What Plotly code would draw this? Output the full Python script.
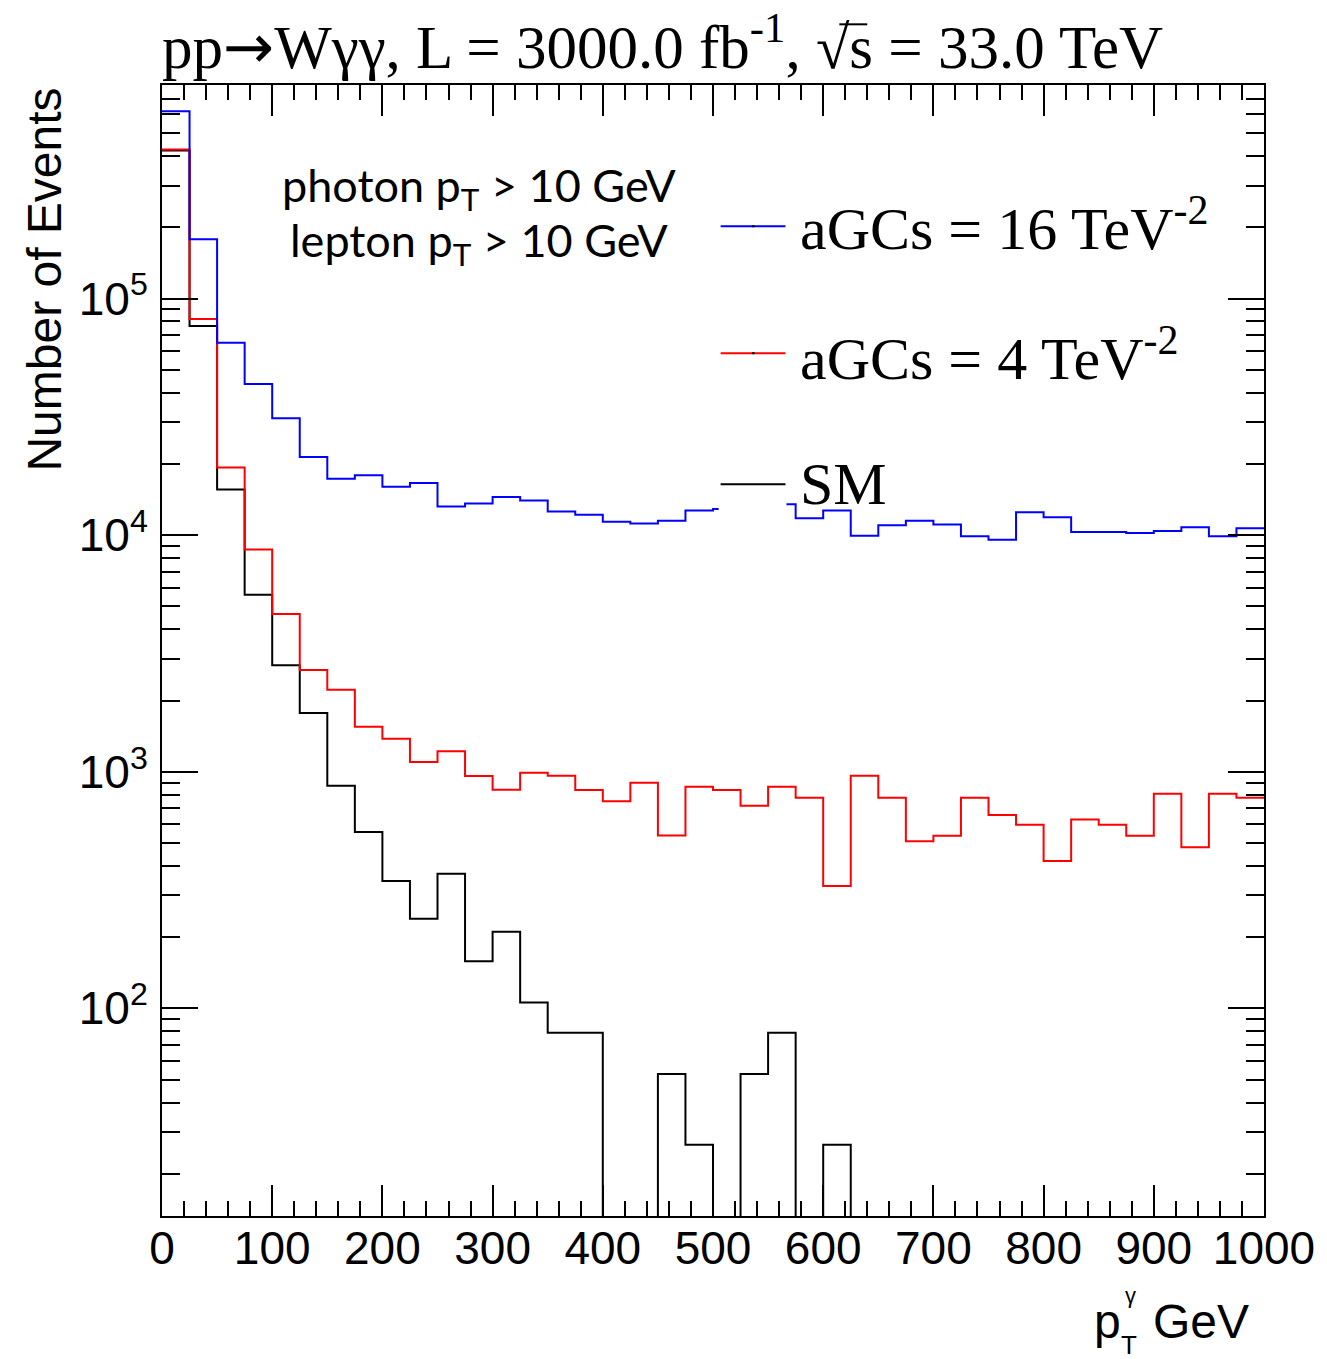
import plotly.graph_objects as go

# ---------------- data ----------------
bin_edges = list(range(0, 1025, 25))  # 40 bins of 25 GeV, photon pT [GeV]

agc16 = [6.18e5, 1.78e5, 6.5e4, 4.35e4, 3.12e4, 2.14e4, 1.73e4, 1.79e4, 1.60e4, 1.66e4,
         1.32e4, 1.36e4, 1.45e4, 1.40e4, 1.26e4, 1.22e4, 1.14e4, 1.12e4, 1.15e4, 1.27e4,
         1.29e4, 1.30e4, 1.35e4, 1.18e4, 1.27e4, 9.94e3, 1.10e4, 1.15e4, 1.11e4, 9.9e3,
         9.55e3, 1.25e4, 1.19e4, 1.03e4, 1.03e4, 1.02e4, 1.04e4, 1.08e4, 9.9e3, 1.07e4]

agc4 = [4.26e5, 8.2e4, 1.93e4, 8.7e3, 4.64e3, 2.69e3, 2.22e3, 1.55e3, 1.38e3, 1.10e3,
        1.22e3, 959, 839, 991, 962, 837, 750, 899, 538, 865,
        837, 718, 865, 776, 329, 962, 776, 509, 537, 776,
        656, 597, 420, 629, 597, 537, 807, 480, 807, 776]

sm = [4.22e5, 7.66e4, 1.56e4, 5.6e3, 2.82e3, 1.77e3, 873, 556, 345, 239,
      371, 158, 211, 106, 78.8, 78.8, 0, 0, 52.8, 26.5,
      0, 52.8, 78.8, 0, 26.5, 0, 0, 0, 0, 0,
      0, 0, 0, 0, 0, 0, 0, 0, 0, 0]

series_names = ["aGCs = 16 TeV<sup>-2</sup>", "aGCs = 4 TeV<sup>-2</sup>", "SM"]
x_tick_vals = list(range(0, 1001, 100))
y_tick_vals = [1e2, 1e3, 1e4, 1e5]
y_tick_text = ["10<sup>2</sup>", "10<sup>3</sup>", "10<sup>4</sup>", "10<sup>5</sup>"]

# ---------------- layout helpers ----------------
W, H = 1327, 1359
PL, PR, PT, PB = 162.0, 1266.7, 84.7, 1216.0


def fx(p):
    return (p - PL) / (PR - PL)


def fy(p):
    return (PB - p) / (PB - PT)


def step_y(vals, floor=1.0):
    v = [val if val > 0 else floor for val in vals]
    return v + [v[-1]]


fig = go.Figure()
for vals, color in [(sm, "#000000"), (agc4, "#ff0000"), (agc16, "#0000ff")]:
    fig.add_trace(go.Scatter(
        x=bin_edges, y=step_y(vals), mode="lines",
        line=dict(color=color, width=2, shape="hv"),
        showlegend=False, hoverinfo="skip"))

axis_common = dict(
    showline=True, linewidth=2, linecolor="black", mirror="ticks",
    ticks="inside", tickwidth=2, tickcolor="black",
    showgrid=False, zeroline=False,
    tickfont=dict(family="Liberation Sans, Arial, sans-serif", size=46, color="black"),
)

fig.update_layout(
    width=W, height=H,
    margin=dict(l=PL, r=W - PR, t=PT, b=H - PB, pad=0),
    paper_bgcolor="white", plot_bgcolor="white",
    xaxis=dict(range=[0, 1000], tickvals=x_tick_vals,
               ticktext=[str(v) for v in x_tick_vals], ticklen=31,
               ticklabelstandoff=-9,
               minor=dict(tickvals=list(range(0, 1001, 20)), ticks="inside", ticklen=15,
                          tickwidth=2, tickcolor="black", showgrid=False),
               **axis_common),
    yaxis=dict(type="log", range=[1.1225, 5.9024], tickvals=y_tick_vals,
               ticktext=y_tick_text, ticklen=36, ticklabelstandoff=3,
               minor=dict(tickvals=[k * 10 ** d for d in range(1, 6) for k in range(2, 10)],
                          ticks="inside", ticklen=18, tickwidth=2, tickcolor="black",
                          showgrid=False),
               **axis_common),
)

serif = "Liberation Serif, Times New Roman, serif"
sans = "Liberation Sans, Arial, sans-serif"
ann = []
# title
ann.append(dict(x=fx(160), y=fy(43), xref="paper", yref="paper", xanchor="left", yanchor="middle",
                text="pp<span style='font-family:DejaVu Sans'>\u2192</span>W\u03b3\u03b3, L = 3000.0 fb<sup>-1</sup>, \u221as = 33.0 TeV",
                showarrow=False, font=dict(family=serif, size=61, color="black")))
# cut labels
ann.append(dict(x=fx(480), y=fy(188), xref="paper", yref="paper", xanchor="center", yanchor="middle",
                text="photon p<sub>T</sub> > 10 GeV", showarrow=False,
                font=dict(family="Lato, Open Sans, sans-serif", size=45, color="black")))
ann.append(dict(x=fx(480), y=fy(243), xref="paper", yref="paper", xanchor="center", yanchor="middle",
                text="lepton p<sub>T</sub> > 10 GeV", showarrow=False,
                font=dict(family="Lato, Open Sans, sans-serif", size=45, color="black")))
# legend text
for name, ycen in zip(series_names, [224, 354, 484]):
    ann.append(dict(x=fx(800), y=fy(ycen), xref="paper", yref="paper", xanchor="left", yanchor="middle",
                    text=name, showarrow=False, font=dict(family=serif, size=60, color="black")))
# y-axis title
ann.append(dict(x=fx(44), y=fy(85), xref="paper", yref="paper", xanchor="center", yanchor="top",
                text="Number of Events", textangle=-90, showarrow=False,
                font=dict(family=sans, size=48, color="black")))
# x-axis title  p_T^gamma GeV
ann.append(dict(x=fx(1125), y=fy(1322), xref="paper", yref="paper", xanchor="right", yanchor="middle",
                text="p", showarrow=False, font=dict(family=sans, size=48, color="black")))
ann.append(dict(x=fx(1125), y=fy(1296), xref="paper", yref="paper", xanchor="left", yanchor="middle",
                text="\u03b3", showarrow=False, font=dict(family=sans, size=22, color="black")))
ann.append(dict(x=fx(1121), y=fy(1345), xref="paper", yref="paper", xanchor="left", yanchor="middle",
                text="T", showarrow=False, font=dict(family=sans, size=26, color="black")))
ann.append(dict(x=fx(1153), y=fy(1322), xref="paper", yref="paper", xanchor="left", yanchor="middle",
                text="GeV", showarrow=False, font=dict(family=sans, size=48, color="black")))
fig.update_layout(annotations=ann)

# legend graphics: white entry box (covers histogram as in original), sample lines
shapes = [dict(type="rect", xref="paper", yref="paper", x0=fx(720), x1=fx(788), y0=fy(512), y1=fy(458),
               fillcolor="white", line=dict(width=0), layer="above")]
for color, yl in [("#0000ff", 226), ("#ff0000", 353), ("#000000", 484)]:
    shapes.append(dict(type="line", xref="paper", yref="paper", x0=fx(722), x1=fx(787), y0=fy(yl), y1=fy(yl),
                       line=dict(color=color, width=2), layer="above"))
for yl in [226, 353]:
    shapes.append(dict(type="line", xref="paper", yref="paper", x0=fx(753.5), x1=fx(756), y0=fy(yl), y1=fy(yl),
                       line=dict(color="black", width=2), layer="above"))
# overline of the square root in the title
shapes.append(dict(type="line", xref="paper", yref="paper", x0=fx(841), x1=fx(869), y0=fy(24), y1=fy(24),
                   line=dict(color="black", width=2), layer="above"))
fig.update_layout(shapes=shapes)

fig.write_html("out.html", config={"displayModeBar": False},
               post_script="document.body.style.margin='0';document.body.style.overflow='hidden';")
